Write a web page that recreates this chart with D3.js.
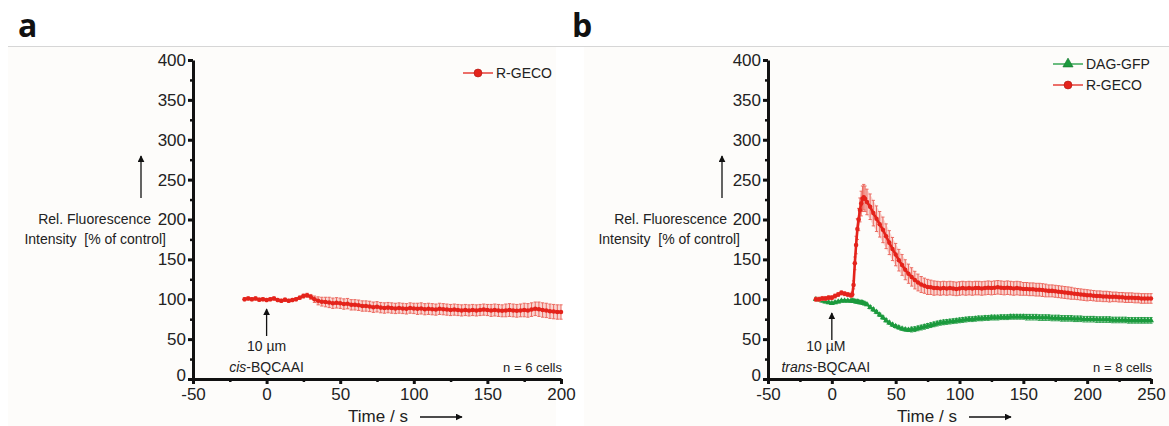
<!DOCTYPE html>
<html>
<head>
<meta charset="utf-8">
<script src="https://cdn.jsdelivr.net/npm/d3@7"></script>
<style>
  body { margin: 0; background: #fff; }
  svg { display: block; font-family: "Liberation Sans", Arial, sans-serif; }
</style>
</head>
<body>
<div id="chart"></div>
<script>
// ---- data ----
const yTicks = [0, 50, 100, 150, 200, 250, 300, 350, 400];
const yMinor = [25, 75, 125, 175, 225, 275, 325, 375];
const xTicksA = [-50, 0, 50, 100, 150, 200];
const xMinorA = [-25, 25, 75, 125, 175];
const xTicksB = [-50, 0, 50, 100, 150, 200, 250];
const xMinorB = [-25, 25, 75, 125, 175, 225];

// panel a: R-GECO with cis-BQCAAI
const timeA = [-15, -12.5, -10, -7.5, -5, -2.5, 0, 2.5, 5, 7.5, 10, 12.5, 15, 17.5, 20, 22.5, 25, 27.5,
  30, 32.5, 35, 37.5, 40, 42.5, 45, 47.5, 50, 52.5, 55, 57.5, 60, 62.5, 65, 67.5, 70, 72.5, 75, 77.5,
  80, 82.5, 85, 87.5, 90, 92.5, 95, 97.5, 100, 102.5, 105, 107.5, 110, 112.5, 115, 117.5, 120, 122.5,
  125, 127.5, 130, 132.5, 135, 137.5, 140, 142.5, 145, 147.5, 150, 152.5, 155, 157.5, 160, 162.5, 165,
  167.5, 170, 172.5, 175, 177.5, 180, 182.5, 185, 187.5, 190, 192.5, 195, 197.5, 200];
const rgecoA = [100, 101, 100, 101, 99.5, 100, 99, 100, 101, 99, 98, 99.5, 98, 99, 100, 102, 104, 105,
  103, 100, 98, 97, 96.5, 96, 95, 95.5, 95, 94, 94.5, 93, 93, 92.5, 91.5, 91.5, 91, 90, 90.5, 89.5,
  89, 89.5, 89, 88.5, 89, 88.5, 88, 89, 88.5, 88, 88.5, 87.5, 88, 87.5, 87, 88, 87.5, 87,
  86.5, 87, 86.5, 86, 86.5, 86, 86.5, 86, 86.5, 87, 86.5, 86, 86.5, 86, 85.5, 86, 86.5,
  86, 85.5, 86, 86.5, 86, 87, 88, 87.5, 86.5, 86, 85, 84.5, 84, 84];
const rgecoAErr = [2, 2, 2, 2, 2, 2, 2, 2, 2, 2, 2, 2, 2, 2, 2, 2, 2.5, 2.5,
  3, 4, 5, 5.5, 6, 6.5, 6.5, 6.5, 6.5, 6.5, 6.5, 6.5, 6.5, 6.5, 6.5, 6.5, 6.5, 6.5, 6.5, 6.5,
  6.5, 6.5, 6.5, 6.5, 6.5, 6.5, 6.5, 6.5, 6.5, 7, 7, 7, 7, 7, 7, 7, 7, 7,
  7, 7, 7, 7, 7, 7, 7, 7, 7, 7, 7, 7.5, 7.5, 7.5, 7.5, 8, 8,
  8, 8, 8, 8.5, 8.5, 8.5, 8.5, 9, 9, 9, 9, 9, 9, 9];

// panel b: DAG-GFP and R-GECO with trans-BQCAAI
const timeB = [-12.5, -10, -7.5, -5, -2.5, 0, 2.5, 5, 7.5, 10, 12.5, 15, 16, 17, 18, 19, 20, 21, 22, 23,
  24, 25, 26, 27.5,
  30, 32.5, 35, 37.5, 40, 42.5, 45, 47.5, 50, 52.5, 55, 57.5, 60, 62.5, 65, 67.5, 70, 72.5, 75,
  77.5, 80, 82.5, 85, 87.5, 90, 92.5, 95, 97.5, 100, 102.5, 105, 107.5, 110, 112.5, 115, 117.5, 120,
  122.5, 125, 127.5, 130, 132.5, 135, 137.5, 140, 142.5, 145, 147.5, 150,
  152.5, 155, 157.5, 160, 162.5, 165, 167.5, 170, 172.5, 175, 177.5, 180, 182.5, 185, 187.5, 190,
  192.5, 195, 197.5, 200,
  202.5, 205, 207.5, 210, 212.5, 215, 217.5, 220, 222.5, 225, 227.5, 230, 232.5, 235, 237.5, 240,
  242.5, 245, 247.5, 250];
const rgecoB = [100, 100, 101, 101, 102, 102, 104, 106, 108, 107, 106, 105, 106, 118, 145, 168, 188, 200,
  212, 220, 226, 228, 226, 222,
  216, 208, 201, 194, 187, 179, 171, 163, 156, 149, 143, 137, 132, 128, 124, 121, 118.5, 117, 115.5,
  115, 114, 114, 113.5, 114, 113.5, 114, 113.5, 113, 113.5, 114, 113.5, 114, 113.5, 114, 114, 113.5, 114,
  114.5, 114, 114.5, 115, 114.5, 114, 114.5, 114, 113.5, 114, 113.5, 113,
  113, 112.5, 112.5, 112, 112, 111.5, 111, 110.5, 110.5, 110, 109.5, 109, 108.5, 108, 107.5, 107,
  106.5, 106, 105.5, 105,
  105, 104.5, 104, 104, 103.5, 103.5, 103, 103, 103, 102.5, 102.5, 102, 102, 102, 101.5, 101.5,
  101, 101, 101, 101];
const rgecoBErr = [2.5, 2.5, 2.5, 2.5, 2.5, 2.5, 2.5, 2.5, 2.5, 2.5, 2.5, 2.5, 3, 5, 8, 11, 13, 14, 15,
  15.5, 16, 16, 16, 16,
  16, 16, 16, 16, 16, 15.5, 15, 14.5, 14, 13.5, 13, 12.5, 12, 11.5, 11, 10.5, 10, 9.5, 9.5,
  9, 9, 8.5, 8.5, 8.5, 8.5, 8.5, 8.5, 8.5, 8.5, 8.5, 8.5, 8.5, 8.5, 8.5, 8.5, 8.5, 8.5,
  8.5, 8.5, 8.5, 8.5, 8.5, 8.5, 8.5, 8.5, 8.5, 8.5, 8.5, 8,
  8, 8, 8, 8, 8, 8, 8, 7.5, 7.5, 7.5, 7.5, 7.5, 7.5, 7.5, 7.5, 7, 7, 7, 7, 7,
  6.5, 6.5, 6.5, 6.5, 6.5, 6.5, 6.5, 6, 6, 6, 6, 6, 6, 6, 6, 6, 6, 6, 6, 6];
const dagB = [100, 99, 98, 97, 96, 95, 96, 97, 98, 98, 98, 98, 98, 97.5, 97.5, 97, 97, 96.5, 96, 96,
  95.5, 95, 94.5, 93.5,
  90, 87, 84, 80.5, 77, 73.5, 70.5, 68, 66, 64.5, 63, 62, 61.5, 62, 62.5, 63.5, 64.5, 65.5, 66.5,
  67.5, 68.5, 69.5, 70.5, 71, 71.5, 72, 72.5, 73, 73.5, 74, 74.5, 75, 75, 75.5, 76, 76, 76.5,
  76.5, 77, 77, 77, 77.5, 77.5, 77.5, 78, 78, 78, 78, 78,
  77.5, 77.5, 77.5, 77.5, 77, 77, 77, 77, 76.5, 76.5, 76.5, 76, 76, 76, 76, 75.5,
  75.5, 75.5, 75, 75,
  75, 75, 74.5, 74.5, 74.5, 74.5, 74.5, 74, 74, 74, 74, 74, 73.5, 73.5, 73.5, 73.5,
  73.5, 73.5, 73.5, 73.5];
const dagBErr = [1.5, 1.5, 1.5, 1.5, 1.5, 1.5, 1.5, 1.5, 1.5, 1.5, 1.5, 1.5, 1.5, 1.5, 1.5, 1.5, 1.5, 1.5,
  1.5, 1.5, 1.5, 1.5, 1.5, 1.5,
  2, 2, 2, 2, 2, 2, 2, 2, 2, 2, 2, 2, 2,
  3, 3, 3, 3, 3, 3, 3, 3, 3, 3, 3, 3, 3, 3, 3, 3, 3, 3, 3, 3, 3, 3, 3, 3, 3, 3, 3, 3, 3, 3, 3, 3, 3, 3, 3, 3,
  3.5, 3.5, 3.5, 3.5, 3.5, 3.5, 3.5, 3.5, 3.5, 3.5, 3.5, 3.5, 3.5, 3.5, 3.5, 3.5, 3.5, 3.5, 3.5, 3.5,
  3.5, 3.5, 3.5, 3.5, 3.5, 3.5, 3.5, 3.5, 3.5, 3.5, 3.5, 3.5, 3.5, 3.5, 3.5, 3.5, 3.5, 3.5, 3.5, 3.5];

// ---- drawing ----
const width = 1169;
const height = 426;

const red = "#e4231b";
const redErr = "#ec6a60";
const redBand = "#f6c4bf";
const green = "#1b9a3d";
const greenErr = "#2fa04e";
const greenBand = "#b9dfc3";

const svg = d3.select("#chart")
  .append("svg")
    .attr("width", width)
    .attr("height", height);

// panel backgrounds and top rule
svg.append("rect").attr("x", 8).attr("y", 47).attr("width", 548).attr("height", 379).attr("fill", "#fdfcfa");
svg.append("rect").attr("x", 584).attr("y", 47).attr("width", 585).attr("height", 379).attr("fill", "#fdfcfa");
svg.append("line")
  .attr("x1", 8).attr("x2", width).attr("y1", 46.5).attr("y2", 46.5)
  .attr("stroke", "#d6d6d6").attr("stroke-width", 1);

// arrow head marker
svg.append("defs").append("marker")
    .attr("id", "arrow")
    .attr("viewBox", "0 0 10 10")
    .attr("refX", 9).attr("refY", 5)
    .attr("markerWidth", 7).attr("markerHeight", 7)
    .attr("markerUnits", "userSpaceOnUse")
    .attr("orient", "auto")
  .append("path")
    .attr("d", "M0,0 L10,5 L0,10 z")
    .attr("fill", "#111");

const y = d3.scaleLinear().domain([0, 400]).range([379, 60]);
const fmt = d => String(d);  // plain hyphen minus, as in the figure

const drawPanel = (opts) => {
  const x = opts.x;
  const g = svg.append("g");
  const x0 = x.range()[0];

  // panel letter
  g.append("text")
    .attr("x", opts.letterX).attr("y", 37)
    .style("font-family", "'Open Sans', sans-serif")
    .style("font-size", "32px").style("font-weight", 700)
    .attr("fill", "#111")
    .text(opts.letter);

  // minor ticks
  g.append("g")
    .attr("transform", `translate(${x0},0)`)
    .call(d3.axisLeft(y).tickValues(yMinor).tickSize(3).tickSizeOuter(0).tickFormat(""))
    .call(a => a.select(".domain").remove())
    .call(a => a.selectAll("line").attr("stroke-width", 2.5).attr("stroke", "#111"));
  g.append("g")
    .attr("transform", `translate(0,${y(0)})`)
    .call(d3.axisBottom(x).tickValues(opts.xMinor).tickSize(3).tickSizeOuter(0).tickFormat(""))
    .call(a => a.select(".domain").remove())
    .call(a => a.selectAll("line").attr("stroke-width", 2.5).attr("stroke", "#111"));

  // major axes
  const yAxis = g.append("g")
    .attr("transform", `translate(${x0},0)`)
    .call(d3.axisLeft(y).tickValues(yTicks).tickSize(5).tickSizeOuter(0).tickPadding(2).tickFormat(fmt));
  const xAxis = g.append("g")
    .attr("transform", `translate(0,${y(0)})`)
    .call(d3.axisBottom(x).tickValues(opts.xTicks).tickSize(5).tickSizeOuter(0).tickPadding(4).tickFormat(fmt));

  [yAxis, xAxis].forEach(a => {
    a.select(".domain").attr("stroke", "#111").attr("stroke-width", 3);
    a.selectAll(".tick line").attr("stroke", "#111").attr("stroke-width", 3);
    a.selectAll(".tick text")
      .attr("fill", "#222")
      .style("font-size", "17px")
      .style("font-family", "'Liberation Sans', Arial, sans-serif");
  });
  // lift the "0" label a touch so it clears "-50" below
  yAxis.selectAll(".tick text").filter(d => d === 0).attr("dy", "0.1em");

  // y label with arrow
  g.append("line")
    .attr("x1", opts.yArrowX).attr("x2", opts.yArrowX)
    .attr("y1", 198).attr("y2", 156)
    .attr("stroke", "#111").attr("stroke-width", 1.3)
    .attr("marker-end", "url(#arrow)");
  g.append("text")
    .attr("x", opts.yLabelX1).attr("y", 224)
    .attr("text-anchor", "end")
    .style("font-size", "14px").attr("fill", "#222")
    .text("Rel. Fluorescence");
  g.append("text")
    .attr("x", opts.yLabelX2).attr("y", 244)
    .attr("text-anchor", "end")
    .style("font-size", "14px").attr("fill", "#222")
    .attr("xml:space", "preserve")
    .text("Intensity  [% of control]");

  // x label with arrow
  g.append("text")
    .attr("x", opts.timeX).attr("y", 422)
    .attr("text-anchor", "middle")
    .style("font-size", "17px").attr("fill", "#222")
    .text("Time / s");
  g.append("line")
    .attr("x1", opts.timeX + 42).attr("x2", opts.timeX + 84)
    .attr("y1", 417).attr("y2", 417)
    .attr("stroke", "#111").attr("stroke-width", 1.3)
    .attr("marker-end", "url(#arrow)");

  // n = cells
  g.append("text")
    .attr("x", x.range()[1] + 1).attr("y", 372)
    .attr("text-anchor", "end")
    .style("font-size", "13px").attr("fill", "#222")
    .text(opts.nText);

  // addition arrow at t = 0
  g.append("line")
    .attr("x1", x(0)).attr("x2", x(0))
    .attr("y1", opts.addArrowY).attr("y2", opts.addArrowY - 27)
    .attr("stroke", "#111").attr("stroke-width", 1.3)
    .attr("marker-end", "url(#arrow)");
  g.append("text")
    .attr("x", x(0) + opts.addDx).attr("y", 351)
    .attr("text-anchor", "middle")
    .style("font-size", "14px").attr("fill", "#222")
    .text(opts.dose);
  const t = g.append("text")
    .attr("x", x(0) + opts.addDx).attr("y", 372)
    .attr("text-anchor", "middle")
    .style("font-size", "14px").attr("fill", "#222");
  t.append("tspan").style("font-style", "italic").text(opts.isomer);
  t.append("tspan").text("-BQCAAI");

  return g;
};

const drawSeries = (g, x, times, values, errs, c) => {
  const pts = times.map((t, i) => ({ t: t, v: values[i], e: errs[i] }))
    .filter(d => d.v !== undefined && d.e !== undefined);

  // faint band behind the dense error bars
  g.append("path")
    .datum(pts)
    .attr("fill", c.band)
    .attr("opacity", 0.7)
    .attr("d", d3.area().x(d => x(d.t)).y0(d => y(d.v - d.e)).y1(d => y(d.v + d.e)));

  const eb = g.append("g")
    .attr("stroke", c.err)
    .attr("stroke-width", 1)
    .attr("fill", "none");
  eb.selectAll("path")
    .data(pts)
    .join("path")
      .attr("d", d => {
        const cx = x(d.t), y1 = y(d.v + d.e), y2 = y(d.v - d.e);
        return `M${cx},${y1}V${y2}M${cx - 1.6},${y1}H${cx + 1.6}M${cx - 1.6},${y2}H${cx + 1.6}`;
      });

  g.append("path")
    .datum(pts)
    .attr("fill", "none")
    .attr("stroke", c.line)
    .attr("stroke-width", c.width)
    .attr("d", d3.line().x(d => x(d.t)).y(d => y(d.v)));

  g.append("g")
    .selectAll("path")
    .data(pts)
    .join("path")
      .attr("transform", d => `translate(${x(d.t)},${y(d.v)})`)
      .attr("d", d3.symbol().type(c.shape).size(c.size))
      .attr("fill", c.line);
};

const drawLegend = (g, lx, ly, color, shape, label) => {
  g.append("line")
    .attr("x1", lx).attr("x2", lx + 30).attr("y1", ly).attr("y2", ly)
    .attr("stroke", color).attr("stroke-width", 1.3);
  g.append("path")
    .attr("transform", `translate(${lx + 15},${ly})`)
    .attr("d", d3.symbol().type(shape).size(shape === d3.symbolCircle ? 50 : 45))
    .attr("fill", color)
    .attr("stroke", d3.color(color).darker(0.8))
    .attr("stroke-width", 0.6);
  g.append("text")
    .attr("x", lx + 33).attr("y", ly + 5)
    .style("font-size", "14px").attr("fill", "#222")
    .text(label);
};

const redStyle = { line: red, err: redErr, band: redBand, width: 2.6, shape: d3.symbolCircle, size: 16 };
const greenStyle = { line: green, err: greenErr, band: greenBand, width: 2.2, shape: d3.symbolTriangle, size: 16 };

// panel a
const xA = d3.scaleLinear().domain([-50, 200]).range([193, 561]);
const gA = drawPanel({
  x: xA, letter: "a", letterX: 18, xTicks: xTicksA, xMinor: xMinorA,
  yArrowX: 141, yLabelX1: 151, yLabelX2: 166, timeX: 378, nText: "n = 6 cells",
  addArrowY: 336, addDx: 0, dose: "10 µm", isomer: "cis"
});
drawSeries(gA, xA, timeA, rgecoA, rgecoAErr, redStyle);
drawLegend(gA, 463, 73, red, d3.symbolCircle, "R-GECO");

// panel b
const xB = d3.scaleLinear().domain([-50, 250]).range([768, 1151]);
const gB = drawPanel({
  x: xB, letter: "b", letterX: 572, xTicks: xTicksB, xMinor: xMinorB,
  yArrowX: 722, yLabelX1: 727, yLabelX2: 740, timeX: 927, nText: "n = 8 cells",
  addArrowY: 340, addDx: -6, dose: "10 µM", isomer: "trans"
});
drawSeries(gB, xB, timeB, dagB, dagBErr, greenStyle);
drawSeries(gB, xB, timeB, rgecoB, rgecoBErr, redStyle);
drawLegend(gB, 1053, 64, green, d3.symbolTriangle, "DAG-GFP");
drawLegend(gB, 1053, 85, red, d3.symbolCircle, "R-GECO");
</script>
</body>
</html>
